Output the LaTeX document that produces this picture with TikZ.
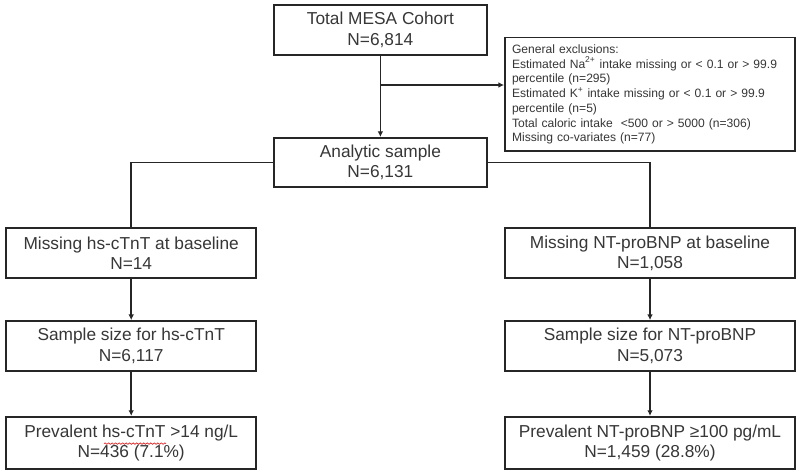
\documentclass[tikz,border=0pt]{standalone}
\usepackage{fontspec}
\setmainfont{Liberation Sans}
\usetikzlibrary{arrows.meta}
\usetikzlibrary{decorations.pathmorphing}
\definecolor{inkgray}{RGB}{55,55,55}
\definecolor{spellred}{RGB}{220,40,40}

\begin{document}
\begin{tikzpicture}[
    box/.style     = {draw=black!85, line width=1.3pt, fill=white, text=inkgray, align=center,
                      inner sep=0pt, minimum height=1.25cm, font=\fontsize{12.3}{14.5}\selectfont},
    excbox/.style  = {draw=black!85, line width=1.3pt, fill=white, text=inkgray, align=left,
                      text width=6.9cm, inner sep=0.175cm, minimum height=2.825cm,
                      font=\fontsize{8.6}{10.5}\selectfont},
    flow/.style    = {draw=black!85, line width=1.2pt},
    squiggle/.style= {draw=spellred, line width=0.5pt, decorate,
                      decoration={snake, amplitude=0.5pt, segment length=2.5pt}},
    >={Latex[length=4pt,width=4pt]}
]
    \useasboundingbox (0,0) rectangle (20,-11.85);

    \node[box, minimum width=5.325cm]                      (total)    at ( 9.51, -0.75) {Total MESA Cohort\\N=6,814};
    \node[box, minimum width=5.325cm, minimum height=1.225cm] (analytic) at ( 9.51, -4.06) {Analytic sample\\N=6,131};
    \node[excbox]                                          (excl)     at (16.25, -2.36)
        {General exclusions:\\
         Estimated Na\textsuperscript{2+} intake missing or < 0.1 or > 99.9\\
         percentile (n=295)\\
         Estimated K\textsuperscript{+} intake missing or < 0.1 or > 99.9\\
         percentile (n=5)\\
         Total caloric intake \ <500 or > 5000 (n=306)\\
         Missing co-variates (n=77)};

    \node[box, minimum width=6.25cm]                       (tntmiss)  at ( 3.28, -6.33) {Missing hs-cTnT at baseline\\N=14};
    \node[box, minimum width=6.25cm]                       (tntsize)  at ( 3.28, -8.65) {Sample size for hs-cTnT\\N=6,117};
    \node[box, minimum width=6.25cm, minimum height=1.3cm] (tntprev)  at ( 3.28,-11.07) {Prevalent hs-cTnT >14 ng/L\\N=436 (7.1\%)};

    \node[box, minimum width=7.25cm]                       (bnpmiss)  at (16.25, -6.33) {Missing NT-proBNP at baseline\\N=1,058};
    \node[box, minimum width=7.25cm]                       (bnpsize)  at (16.25, -8.65) {Sample size for NT-proBNP\\N=5,073};
    \node[box, minimum width=7.25cm, minimum height=1.3cm] (bnpprev)  at (16.25,-11.07) {Prevalent NT-proBNP ≥100 pg/mL\\N=1,459 (28.8\%)};

    \coordinate (split) at (9.51, -2.125);

    \draw[flow, ->] (total)    -- (analytic);
    \draw[flow, ->] (split)    -- (split -| excl.west);
    \draw[flow]     (analytic) -| (tntmiss);
    \draw[flow]     (analytic) -| (bnpmiss);
    \draw[flow, ->] (tntmiss)  -- (tntsize);
    \draw[flow, ->] (tntsize)  -- (tntprev);
    \draw[flow, ->] (bnpmiss)  -- (bnpsize);
    \draw[flow, ->] (bnpsize)  -- (bnpprev);

    \draw[squiggle] ([xshift=-0.68cm, yshift=-0.02cm]tntprev.center) -- ++(1.55,0);
\end{tikzpicture}
\end{document}
